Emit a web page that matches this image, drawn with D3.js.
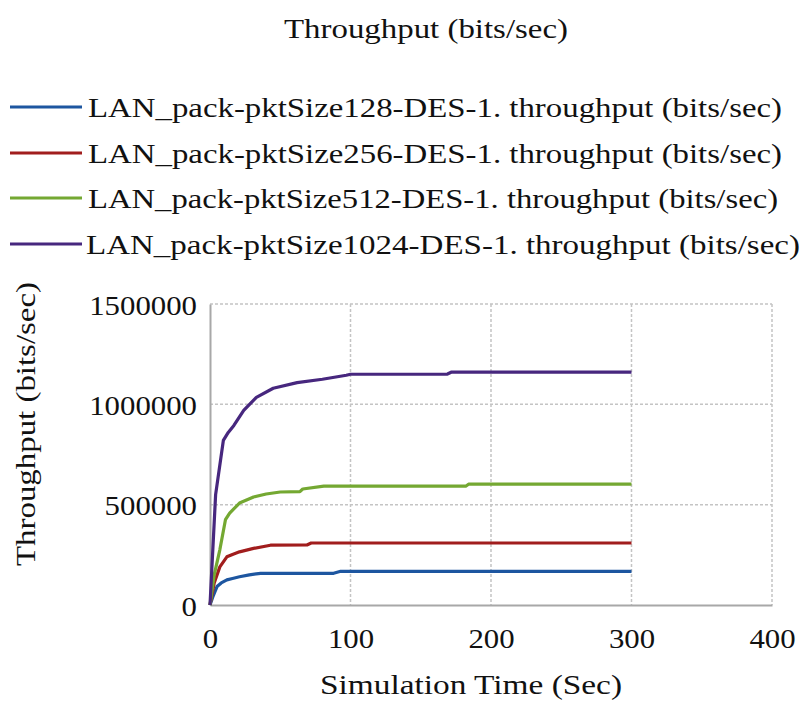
<!DOCTYPE html>
<html lang="en">
<head>
    <meta charset="UTF-8">
    <title>Throughput (bits/sec)</title>
    <script src="https://cdn.jsdelivr.net/npm/d3@7"></script>
    <style>
        body { margin: 0; background: #fff; }
        svg { display: block; }
        text { font-family: "Liberation Serif", "Times New Roman", serif; fill: #111; }
    </style>
</head>
<body>
<div id="chart"></div>
<script>
    // time (sec), throughput (bits/sec)
    const pkt128 = [[0, 0], [2, 40000], [5, 92000], [8, 110000], [12, 125000], [16, 132000], [21, 141000],
        [28, 150000], [36, 158000], [88, 158000], [93, 168000], [300, 168000]]
    const pkt256 = [[0, 0], [3, 110000], [7, 190000], [12, 240000], [16, 252000], [21, 265000], [31, 282000],
        [43, 298000], [69, 299000], [72, 309000], [300, 309000]]
    const pkt512 = [[0, 0], [3, 150000], [7, 275000], [11, 425000], [14, 458000], [21, 508000], [31, 538000],
        [40, 553000], [50, 563000], [64, 565000], [66, 578000], [81, 592000], [182, 592000], [184, 602000], [300, 602000]]
    const pkt1024 = [[0, 0], [4, 550000], [9.5, 820000], [13, 860000], [17, 895000], [24, 970000], [33, 1035000],
        [45, 1080000], [62, 1108000], [80, 1125000], [97, 1145000], [100, 1150000], [169, 1151000], [172, 1161000], [300, 1161000]]

    const seriesNames = [
        "LAN_pack-pktSize128-DES-1. throughput (bits/sec)",
        "LAN_pack-pktSize256-DES-1. throughput (bits/sec)",
        "LAN_pack-pktSize512-DES-1. throughput (bits/sec)",
        "LAN_pack-pktSize1024-DES-1. throughput (bits/sec)"
    ]
    const seriesData = [pkt128, pkt256, pkt512, pkt1024]
    const colors = ["#1d56a0", "#a11d1d", "#74a832", "#47277e"]

    const xTicks = [0, 100, 200, 300, 400]
    const yTicks = [0, 500000, 1000000, 1500000]

    const width = 804
    const height = 702
    const plot = { left: 210, right: 772, top: 304, bottom: 605 }
    const digitWidth = 15.4

    const svg = d3.select("#chart").append("svg")
        .attr("width", width)
        .attr("height", height)

    const x = d3.scaleLinear().domain([0, 400]).range([plot.left, plot.right])
    const y = d3.scaleLinear().domain([0, 1500000]).range([plot.bottom, plot.top])

    // title
    svg.append("text")
        .attr("x", 426).attr("y", 38)
        .attr("text-anchor", "middle")
        .attr("textLength", 284)
        .attr("lengthAdjust", "spacingAndGlyphs")
        .style("font-size", "27px")
        .text("Throughput (bits/sec)")

    // legend
    const legendY = [107, 153, 198, 244]
    const legendWidths = [694, 694, 690, 714]
    const legend = svg.selectAll(".legend")
        .data(seriesNames)
        .enter().append("g")
        .attr("transform", (d, i) => `translate(0, ${legendY[i]})`)

    legend.append("line")
        .attr("x1", 10).attr("x2", 82)
        .attr("stroke", (d, i) => colors[i])
        .attr("stroke-width", 3)

    legend.append("text")
        .attr("x", (d, i) => i === 3 ? 86 : 88)
        .attr("y", 10)
        .attr("textLength", (d, i) => legendWidths[i])
        .attr("lengthAdjust", "spacingAndGlyphs")
        .style("font-size", "27px")
        .text((d) => d)

    // grid
    const grid = svg.append("g")
    grid.selectAll(".vgrid")
        .data(xTicks.slice(1))
        .enter().append("line")
        .attr("x1", (d) => x(d)).attr("x2", (d) => x(d))
        .attr("y1", plot.top).attr("y2", plot.bottom)
        .attr("stroke", "#c4c4c4")
        .attr("stroke-width", 1.5)
        .attr("stroke-dasharray", "3,2")

    grid.selectAll(".hgrid")
        .data(yTicks.slice(1))
        .enter().append("line")
        .attr("x1", plot.left).attr("x2", plot.right)
        .attr("y1", (d) => y(d)).attr("y2", (d) => y(d))
        .attr("stroke", "#c4c4c4")
        .attr("stroke-width", 1.5)
        .attr("stroke-dasharray", "3,2")

    // axes
    const xAxis = svg.append("g")
        .attr("transform", `translate(0, ${plot.bottom})`)
        .call(d3.axisBottom(x).tickValues(xTicks).tickSize(0).tickPadding(24))
    xAxis.select(".domain").attr("stroke", "#a8a8a8").attr("stroke-width", 2)
    xAxis.selectAll("text").style("font-size", "27px").attr("fill", "#111")
        .style("font-family", "Liberation Serif, serif")
        .attr("textLength", (d) => String(d).length * digitWidth)
        .attr("lengthAdjust", "spacingAndGlyphs")

    const yAxis = svg.append("g")
        .attr("transform", `translate(${plot.left}, 0)`)
        .call(d3.axisLeft(y).tickValues(yTicks).tickFormat(d3.format("d")).tickSize(0).tickPadding(13))
    yAxis.select(".domain").attr("stroke", "#a8a8a8").attr("stroke-width", 2)
    yAxis.selectAll("text").style("font-size", "27px").attr("fill", "#111")
        .style("font-family", "Liberation Serif, serif")
        .attr("dy", "0.38em")
        .attr("textLength", (d) => String(d).length * digitWidth)
        .attr("lengthAdjust", "spacingAndGlyphs")

    // axis titles
    svg.append("text")
        .attr("x", 471).attr("y", 694)
        .attr("text-anchor", "middle")
        .attr("textLength", 302)
        .attr("lengthAdjust", "spacingAndGlyphs")
        .style("font-size", "27px")
        .text("Simulation Time (Sec)")

    svg.append("text")
        .attr("transform", "translate(35, 424) rotate(-90)")
        .attr("text-anchor", "middle")
        .attr("textLength", 284)
        .attr("lengthAdjust", "spacingAndGlyphs")
        .style("font-size", "27px")
        .text("Throughput (bits/sec)")

    // series
    const line = d3.line()
        .x((d) => x(d[0]))
        .y((d) => y(d[1]))

    svg.append("g").selectAll(".series")
        .data(seriesData)
        .enter().append("path")
        .attr("d", line)
        .attr("fill", "none")
        .attr("stroke", (d, i) => colors[i])
        .attr("stroke-width", 3.2)
        .attr("stroke-linejoin", "round")
</script>
</body>
</html>
